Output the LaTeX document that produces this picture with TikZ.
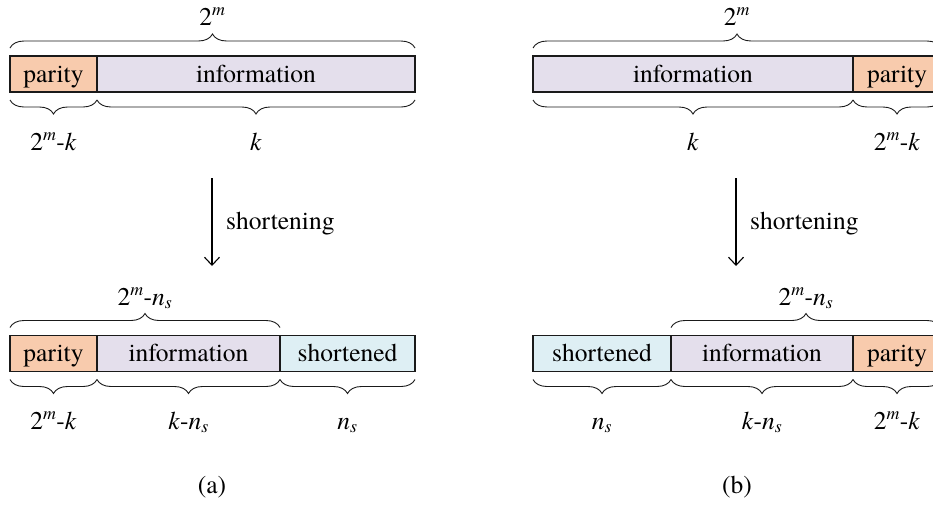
\documentclass[tikz,border=0pt]{standalone}
\usepackage{fontspec}
\IfFontExistsTF{TeX Gyre Termes}{\setmainfont{TeX Gyre Termes}}{}
\usetikzlibrary{decorations.pathreplacing,arrows.meta}
\definecolor{parc}{HTML}{F8CBAD}
\definecolor{infc}{HTML}{E4DFEC}
\definecolor{shoc}{HTML}{DEEFF4}
\definecolor{edgec}{HTML}{1A1A1A}
\newcommand{\tm}{2\textsuperscript{\textit{m}}}
\newcommand{\ns}{\textit{n}\textsubscript{\textit{s}}}
\begin{document}
\begin{tikzpicture}[x=1pt,y=-1pt,
  every node/.style={font=\fontsize{25.5}{30}\selectfont},
  seg/.style={draw=edgec,line width=1.4pt,minimum height=36pt,inner sep=0pt,outer sep=0pt,anchor=west},
  txt/.style={anchor=base,inner sep=0pt},
  brc/.style={draw=edgec,line width=0.9pt,decorate,decoration={brace,amplitude=14pt}},
  lab/.style={anchor=base,inner sep=0pt},
  arr/.style={draw=black,line width=1.1pt,-{Straight Barb[length=8pt,width=15pt]}}
]
\useasboundingbox (0,0) rectangle (933,504);
\clip (0,0) rectangle (933,504);
% ---------- (a) top
\node[seg,fill=parc,minimum width=87pt] (pa1) at (10,74) {};
\node[seg,fill=infc,minimum width=318pt] (ia1) at (97,74) {};
\node[txt] (tpa1) at ([yshift=-8pt]pa1.center) {parity};
\node[txt] (tia1) at ([yshift=-8pt]ia1.center) {information};
\draw[brc] ([yshift=8pt]pa1.north west) -- ([yshift=8pt]ia1.north east);
\draw[brc] ([yshift=-8pt]pa1.south east) -- ([yshift=-8pt]pa1.south west);
\draw[brc] ([yshift=-8pt]ia1.south east) -- ([yshift=-8pt]ia1.south west);
\node[lab] (la1) at (212.5,25) {\tm};
\node[lab] (la2) at (53.5,150) {\tm-\textit{k}};
\node[lab] (la3) at (256,150) {\textit{k}};
% arrow (a)
\coordinate (as) at (212,178);
\coordinate (ae) at (212,266);
\draw[arr] (as) -- (ae);
\node[lab,anchor=base west] (ash) at (226,229) {shortening};
% ---------- (a) bottom
\node[seg,fill=parc,minimum width=87pt] (pa2) at (10,353.5) {};
\node[seg,fill=infc,minimum width=183pt] (ia2) at (97,353.5) {};
\node[seg,fill=shoc,minimum width=135pt] (sa2) at (280,353.5) {};
\node[txt] (tpa2) at ([yshift=-8pt]pa2.center) {parity};
\node[txt] (tia2) at ([yshift=-8pt]ia2.center) {information};
\node[txt] (tsa2) at ([yshift=-8pt]sa2.center) {shortened};
\draw[brc] ([yshift=8pt]pa2.north west) -- ([yshift=8pt]ia2.north east);
\draw[brc] ([yshift=-8pt]pa2.south east) -- ([yshift=-8pt]pa2.south west);
\draw[brc] ([yshift=-8pt]ia2.south east) -- ([yshift=-8pt]ia2.south west);
\draw[brc] ([yshift=-8pt]sa2.south east) -- ([yshift=-8pt]sa2.south west);
\node[lab] (la4) at (145,305) {\tm-\ns};
\node[lab] (la5) at (53.5,429) {\tm-\textit{k}};
\node[lab] (la6) at (188.5,429) {\textit{k}-\ns};
\node[lab] (la7) at (347.5,429) {\ns};
\node[lab] (capa) at (212,493) {(a)};
% ---------- (b) top
\node[seg,fill=infc,minimum width=320pt] (ib1) at (533,74) {};
\node[seg,fill=parc,minimum width=88pt] (pb1) at (853,74) {};
\node[txt] (tib1) at ([yshift=-8pt]ib1.center) {information};
\node[txt] (tpb1) at ([yshift=-8pt]pb1.center) {parity};
\draw[brc] ([yshift=8pt]ib1.north west) -- ([yshift=8pt]pb1.north east);
\draw[brc] ([yshift=-8pt]ib1.south east) -- ([yshift=-8pt]ib1.south west);
\draw[brc] ([yshift=-8pt]pb1.south east) -- ([yshift=-8pt]pb1.south west);
\node[lab] (lb1) at (737,25) {\tm};
\node[lab] (lb2) at (693,150) {\textit{k}};
\node[lab] (lb3) at (897,150) {\tm-\textit{k}};
% arrow (b)
\coordinate (bs) at (736,178);
\coordinate (be) at (736,266);
\draw[arr] (bs) -- (be);
\node[lab,anchor=base west] (bsh) at (750,229) {shortening};
% ---------- (b) bottom
\node[seg,fill=shoc,minimum width=138pt] (sb2) at (533,353.5) {};
\node[seg,fill=infc,minimum width=182pt] (ib2) at (671,353.5) {};
\node[seg,fill=parc,minimum width=88pt] (pb2) at (853,353.5) {};
\node[txt] (tsb2) at ([yshift=-8pt]sb2.center) {shortened};
\node[txt] (tib2) at ([yshift=-8pt]ib2.center) {information};
\node[txt] (tpb2) at ([yshift=-8pt]pb2.center) {parity};
\draw[brc] ([yshift=8pt]ib2.north west) -- ([yshift=8pt]pb2.north east);
\draw[brc] ([yshift=-8pt]sb2.south east) -- ([yshift=-8pt]sb2.south west);
\draw[brc] ([yshift=-8pt]ib2.south east) -- ([yshift=-8pt]ib2.south west);
\draw[brc] ([yshift=-8pt]pb2.south east) -- ([yshift=-8pt]pb2.south west);
\node[lab] (lb4) at (806,305) {\tm-\ns};
\node[lab] (lb5) at (602,429) {\ns};
\node[lab] (lb6) at (762,429) {\textit{k}-\ns};
\node[lab] (lb7) at (897,429) {\tm-\textit{k}};
\node[lab] (capb) at (737,493) {(b)};
\end{tikzpicture}
\end{document}
